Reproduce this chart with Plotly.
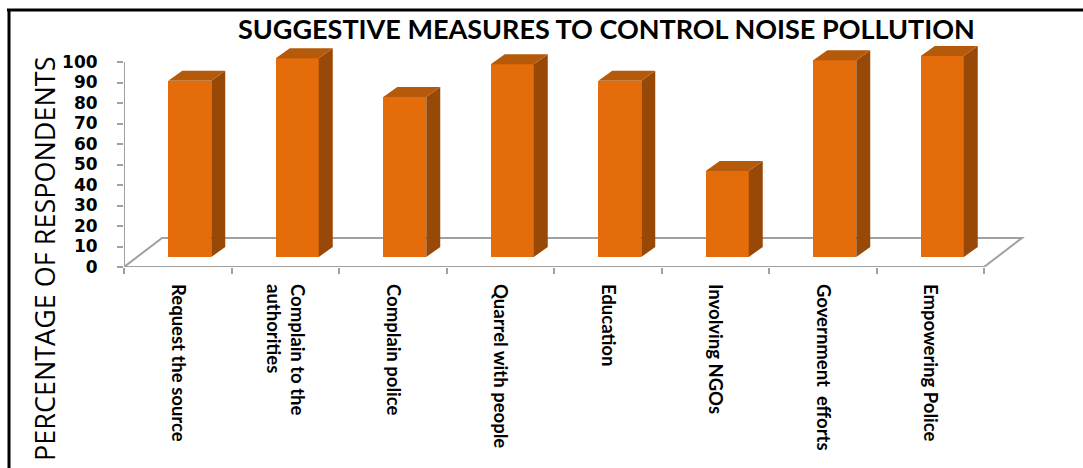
import plotly.graph_objects as go

# ---- data ----
categories = ["Request the source", "Complain to the<br>authorities", "Complain police",
              "Quarrel with people", "Education", "Involving NGOs",
              "Government  efforts", "Empowering Police"]
values = [86, 97, 78, 94, 86, 42, 96, 98]
y_ticks = [0, 10, 20, 30, 40, 50, 60, 70, 80, 90, 100]
title_text = "SUGGESTIVE MEASURES TO CONTROL NOISE POLLUTION"
y_title = "PERCENTAGE OF RESPONDENTS"

# ---- layout geometry (pixels) ----
W, H = 1083, 468
L, R = 124, 1030          # plot area left / right
T, B = 40, 267            # plot area top / bottom
cat_px = 107.5            # pixels per category
y_px = 2.05               # pixels per percent

x_lo = -0.5
x_hi = x_lo + (R - L) / cat_px
y_lo = 0
y_hi = (B - T) / y_px

def ux(px):
    return px / cat_px

def uy(px):
    return px / y_px

def xp(px):
    return (px - L) / (R - L)

def yp(py):
    return (B - py) / (B - T)

n = len(categories)
floor_dx, floor_dy = ux(38), uy(29)
bar_shift = ux(12)
bar_base = uy(10)
bar_w = ux(43)
dep_x, dep_y = ux(14), uy(10)

FRONT = "#E46C0A"
SIDE = "#984807"
TOP = "#B55A0A"
AXIS = "#A0A0A0"

xs = [i + bar_shift for i in range(n)]

fig = go.Figure()
fig.add_trace(go.Bar(
    x=xs, y=values, base=bar_base, width=bar_w,
    marker=dict(color=FRONT, line=dict(width=0)),
    hoverinfo="skip", showlegend=False,
))

shapes = []
# floor outline
x_end = x_lo + n
floor_path = (f"M {x_lo} 0 L {x_end} 0 L {x_end + floor_dx} {floor_dy} "
              f"L {x_lo + floor_dx} {floor_dy} Z")
shapes.append(dict(type="path", path=floor_path, xref="x", yref="y",
                   line=dict(color=AXIS, width=2), layer="below"))
# y axis line
shapes.append(dict(type="line", xref="x", yref="y", x0=x_lo, x1=x_lo, y0=0, y1=100,
                   line=dict(color=AXIS, width=2), layer="below"))

# 3D side and top faces of bars
for xc, v in zip(xs, values):
    xl = xc - bar_w / 2
    xr = xc + bar_w / 2
    top = bar_base + v
    side = (f"M {xr} {bar_base} L {xr + dep_x} {bar_base + dep_y} "
            f"L {xr + dep_x} {top + dep_y} L {xr} {top} Z")
    shapes.append(dict(type="path", path=side, xref="x", yref="y",
                       fillcolor=SIDE, line=dict(width=0), layer="above"))
    topf = (f"M {xl} {top} L {xl + dep_x} {top + dep_y} "
            f"L {xr + dep_x} {top + dep_y} L {xr} {top} Z")
    shapes.append(dict(type="path", path=topf, xref="x", yref="y",
                       fillcolor=TOP, line=dict(width=0), layer="above"))

# frame
shapes.append(dict(type="line", xref="paper", yref="paper",
                   x0=xp(7), x1=xp(1083), y0=yp(10), y1=yp(10),
                   line=dict(color="black", width=3)))
shapes.append(dict(type="line", xref="paper", yref="paper",
                   x0=xp(9), x1=xp(9), y0=yp(9), y1=yp(470),
                   line=dict(color="black", width=3)))

annotations = [
    dict(text=title_text, xref="paper", yref="paper", x=xp(606), y=yp(28),
         showarrow=False, xanchor="center", yanchor="middle",
         font=dict(family="Lato, Liberation Sans", size=27, color="black", weight="bold")),
    dict(text=y_title, xref="paper", yref="paper", x=xp(44), y=yp(259),
         showarrow=False, xanchor="center", yanchor="middle", textangle=-90,
         font=dict(family="Open Sans, Liberation Sans", size=27, color="black")),
]

fig.update_layout(
    width=W, height=H,
    margin=dict(l=L, r=W - R, t=T, b=H - B, pad=0),
    paper_bgcolor="white", plot_bgcolor="white",
    shapes=shapes, annotations=annotations,
    bargap=0,
    xaxis=dict(range=[x_lo, x_hi], showgrid=False, zeroline=False, showline=False,
               tickvals=list(range(n)), ticktext=categories, tickangle=90,
               ticks="", ticklabelstandoff=16,
               tickfont=dict(family="Lato, DejaVu Sans", size=18.5, color="black", weight="bold"),
               minor=dict(tickvals=[x_lo + k for k in range(n + 1)], ticks="outside",
                          ticklen=6, tickcolor=AXIS, tickwidth=2)),
    yaxis=dict(range=[y_lo, y_hi], showgrid=False, zeroline=False, showline=False,
               tickvals=y_ticks, ticks="outside", ticklen=6, tickcolor=AXIS, tickwidth=2,
               ticklabelstandoff=16,
               tickfont=dict(family="DejaVu Sans", size=17, color="black", weight="bold")),
)

fig.write_html("out.html")
